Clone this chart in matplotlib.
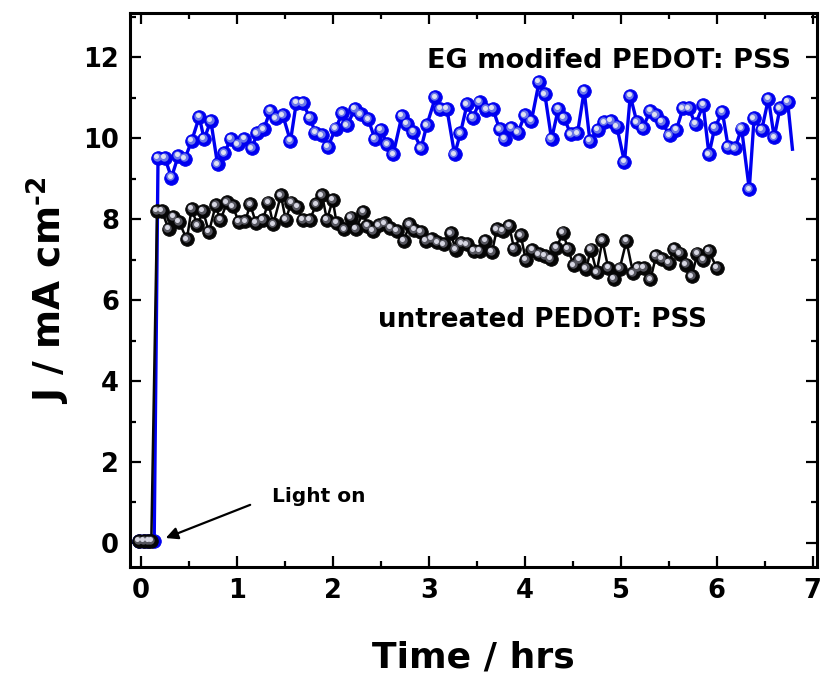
import matplotlib
matplotlib.use("Agg")
import matplotlib.pyplot as plt
from matplotlib.transforms import offset_copy

# ---------------- data ----------------
eg_t = [-0.02, 0.03, 0.08, 0.14,
        0.18, 0.25, 0.32, 0.39, 0.46, 0.53, 0.61, 0.66, 0.73, 0.80,
        0.87, 0.94, 1.01, 1.08, 1.16, 1.21, 1.28, 1.35, 1.41, 1.48,
        1.56, 1.62, 1.69, 1.76, 1.82, 1.89, 1.95, 2.03, 2.10, 2.15,
        2.23, 2.29,
        2.37, 2.44, 2.50, 2.57, 2.63, 2.72, 2.77, 2.84, 2.92, 2.98,
        3.07, 3.12, 3.19, 3.27, 3.33, 3.40, 3.46, 3.53, 3.60, 3.67,
        3.74, 3.79, 3.86, 3.93, 4.00, 4.07, 4.15, 4.21, 4.28, 4.35,
        4.41, 4.48, 4.55, 4.62,
        4.68, 4.76, 4.83, 4.90, 4.96, 5.04, 5.10, 5.17, 5.23, 5.31,
        5.37, 5.43, 5.51, 5.58, 5.65, 5.71, 5.78, 5.86, 5.92, 5.98,
        6.06, 6.12, 6.19, 6.26, 6.34, 6.39, 6.47, 6.54, 6.60, 6.66,
        6.74, 6.79]
eg_j = [0.05, 0.05, 0.05, 0.05,
        9.52, 9.52, 9.03, 9.56, 9.50, 9.93, 10.53, 9.98, 10.43, 9.36,
        9.63, 9.99, 9.85, 9.99, 9.75, 10.12, 10.22, 10.68, 10.49, 10.57,
        9.93, 10.87, 10.87, 10.51, 10.14, 10.07, 9.79, 10.24, 10.62, 10.32,
        10.72, 10.59,
        10.47, 9.98, 10.21, 9.85, 9.60, 10.55, 10.35, 10.16, 9.75, 10.32,
        11.01, 10.72, 10.72, 9.60, 10.12, 10.84, 10.51, 10.90, 10.71, 10.72,
        10.22, 9.98, 10.26, 10.14, 10.57, 10.43, 11.39, 11.09, 9.98, 10.72,
        10.51, 10.10, 10.12, 11.17,
        9.93, 10.21, 10.39, 10.43, 10.29, 9.41, 11.05, 10.39, 10.26, 10.68,
        10.57, 10.40, 10.07, 10.21, 10.74, 10.74, 10.35, 10.82, 9.60, 10.26,
        10.65, 9.79, 9.75, 10.24, 8.74, 10.49, 10.21, 10.98, 10.02, 10.74,
        10.90, 9.73]

un_t = [-0.02, 0.03, 0.08, 0.11,
        0.17, 0.22, 0.29, 0.34, 0.40, 0.48, 0.53, 0.59, 0.65, 0.71,
        0.78, 0.83, 0.90, 0.96, 1.02, 1.09, 1.14, 1.20, 1.27, 1.33,
        1.38, 1.46, 1.51, 1.57, 1.63, 1.69, 1.76, 1.83, 1.89, 1.94,
        2.00, 2.04, 2.12, 2.19, 2.24, 2.32, 2.36, 2.42, 2.48, 2.54,
        2.60, 2.67, 2.74, 2.80, 2.85, 2.92, 2.97, 3.03, 3.09, 3.16,
        3.23, 3.28, 3.34, 3.40, 3.47, 3.53, 3.59, 3.66, 3.71, 3.77,
        3.84, 3.89, 3.96, 4.01, 4.08, 4.15, 4.21, 4.27, 4.33, 4.40,
        4.45, 4.51, 4.57, 4.64, 4.69, 4.75, 4.81, 4.87, 4.93, 4.99,
        5.06, 5.13, 5.18, 5.24, 5.31, 5.37, 5.43, 5.50, 5.56, 5.62,
        5.68, 5.74, 5.80, 5.86, 5.92, 6.00]
un_j = [0.05, 0.05, 0.05, 0.05,
        8.20, 8.20, 7.76, 8.06, 7.93, 7.50, 8.26, 7.85, 8.20, 7.68,
        8.34, 7.98, 8.42, 8.32, 7.93, 7.95, 8.37, 7.91, 7.98, 8.41,
        7.87, 8.59, 7.99, 8.41, 8.31, 7.98, 7.98, 8.37, 8.59, 7.98,
        8.48, 7.91, 7.75, 8.04, 7.76, 8.18, 7.83, 7.71, 7.85, 7.90,
        7.79, 7.71, 7.46, 7.87, 7.73, 7.68, 7.46, 7.52, 7.43, 7.38,
        7.65, 7.25, 7.40, 7.38, 7.21, 7.21, 7.46, 7.19, 7.75, 7.71,
        7.83, 7.26, 7.60, 7.00, 7.24, 7.13, 7.09, 7.02, 7.29, 7.67,
        7.27, 6.86, 6.99, 6.78, 7.25, 6.69, 7.48, 6.80, 6.53, 6.78,
        7.46, 6.66, 6.80, 6.80, 6.51, 7.10, 7.02, 6.92, 7.27, 7.15,
        6.88, 6.59, 7.15, 6.99, 7.21, 6.80]

x_ticks = [0, 1, 2, 3, 4, 5, 6, 7]
y_ticks = [0, 2, 4, 6, 8, 10, 12]

# ---------------- figure ----------------
plt.rcParams['font.family'] = ['DejaVu Sans']
plt.rcParams['font.weight'] = 'bold'
plt.rcParams['mathtext.default'] = 'bf'

fig = plt.figure(figsize=(8.24, 6.76), dpi=100)
ax = fig.add_axes([0.158, 0.161, 0.834, 0.820])


def sphere_series(t, j, base, mid, light, lw, z, mark_last=True):
    ax.plot(t, j, '-', color=base, lw=lw, zorder=z, solid_joinstyle='round')
    tm = t if mark_last else t[:-1]
    jm = j if mark_last else j[:-1]
    ax.plot(tm, jm, 'o', ms=9.8, color=base, mec=base, mew=0.6, zorder=z + 0.1)
    tr1 = offset_copy(ax.transData, fig=fig, x=-0.8, y=0.8, units='points')
    ax.plot(tm, jm, 'o', ms=6.0, color=mid, mec='none', zorder=z + 0.2,
            transform=tr1)
    tr2 = offset_copy(ax.transData, fig=fig, x=-1.2, y=1.2, units='points')
    ax.plot(tm, jm, 'o', ms=3.6, color=light, mec='none', zorder=z + 0.3,
            transform=tr2)


sphere_series(eg_t, eg_j, '#0000f0', '#6a76ea', '#dfe2f2', 2.4, 2, mark_last=False)
sphere_series(un_t, un_j, '#060606', '#55555e', '#d6d6e2', 1.8, 3)

ax.set_xlim(-0.11, 7.05)
ax.set_ylim(-0.6, 13.1)
ax.set_xticks(x_ticks)
ax.set_yticks(y_ticks)
ax.set_xticks([v + 0.5 for v in x_ticks[:-1]], minor=True)
ax.set_yticks([v + 1 for v in y_ticks], minor=True)

ax.tick_params(which='both', direction='in', top=True, right=True, width=1.6)
ax.tick_params(which='major', length=8, labelsize=18.5, pad=8)
ax.tick_params(which='minor', length=4.5)
for s in ax.spines.values():
    s.set_linewidth(2.2)
for lab in ax.get_xticklabels() + ax.get_yticklabels():
    lab.set_fontweight('bold')

ax.set_xlabel('Time / hrs', fontsize=26, fontweight='bold', labelpad=26)
ax.set_ylabel('J / mA cm$^{\\mathbf{\\text{-}2}}$', fontsize=27, fontweight='bold', labelpad=8)

ax.text(6.77, 11.9, 'EG modifed PEDOT: PSS', fontsize=19.5, fontweight='bold',
        ha='right', va='center')
ax.text(2.47, 5.52, 'untreated PEDOT: PSS', fontsize=18.8, fontweight='bold',
        ha='left', va='center')
ax.text(1.37, 1.15, 'Light on', fontsize=14.5, fontweight='bold',
        ha='left', va='center')
ax.annotate('', xy=(0.26, 0.12), xytext=(1.14, 0.94),
            arrowprops=dict(arrowstyle='-|>', color='black', lw=1.6,
                            mutation_scale=18, shrinkA=0, shrinkB=0))

fig.savefig('out.png', dpi=100)
